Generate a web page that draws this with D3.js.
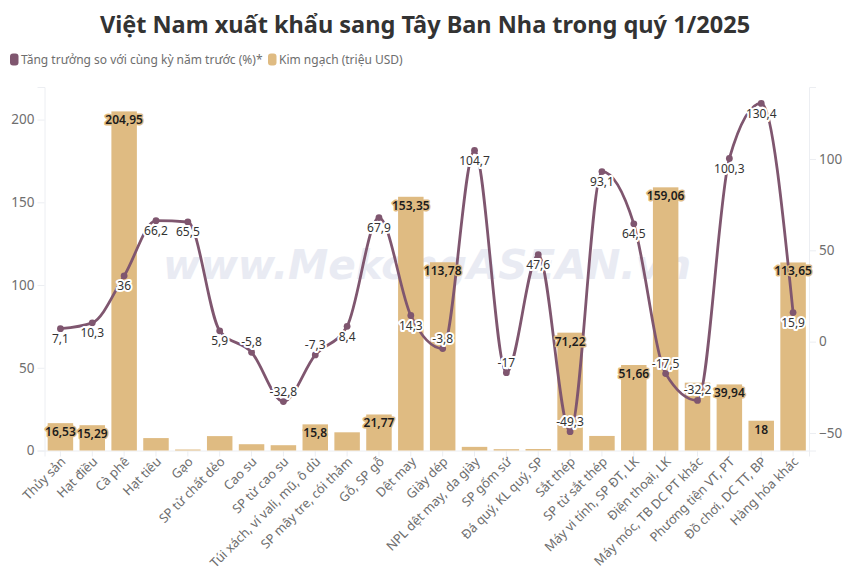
<!DOCTYPE html>
<html>
<head>
<meta charset="utf-8">
<script src="https://cdn.jsdelivr.net/npm/d3@7"></script>
<style>
  html, body { margin: 0; padding: 0; background: #fff; }
  text { font-family: "Noto Sans", sans-serif; }
</style>
</head>
<body>
<svg id="chart" width="850" height="578"></svg>
<script>
  // data
  const categories = [
    'Thủy sản', 'Hạt điều', 'Cà phê', 'Hạt tiêu', 'Gạo', 'SP từ chất dẻo', 'Cao su', 'SP từ cao su',
    'Túi xách, ví vali, mũ, ô dù', 'SP mây tre, cói thảm', 'Gỗ, SP gỗ', 'Dệt may', 'Giày dép',
    'NPL dệt may, da giày', 'SP gốm sứ', 'Đá quý, KL quý, SP', 'Sắt thép', 'SP từ sắt thép',
    'Máy vi tính, SP ĐT, LK', 'Điện thoại, LK', 'Máy móc, TB DC PT khác', 'Phương tiện VT, PT',
    'Đồ chơi, DC TT, BP', 'Hàng hóa khác'
  ];
  const turnover = [16.53, 15.29, 204.95, 7.5, 0.6, 8.7, 3.8, 3.2, 15.8, 11, 21.77, 153.35, 113.78,
    2.2, 0.8, 0.9, 71.22, 8.8, 51.66, 159.06, 41, 39.94, 18, 113.65];
  // bars too short to carry a label in the original
  const turnoverLabels = ['16,53', '15,29', '204,95', '', '', '', '', '', '15,8', '', '21,77', '153,35', '113,78',
    '', '', '', '71,22', '', '51,66', '159,06', '', '39,94', '18', '113,65'];
  const growth = [7.1, 10.3, 36, 66.2, 65.5, 5.9, -5.8, -32.8, -7.3, 8.4, 67.9, 14.3, -3.8,
    104.7, -17, 47.6, -49.3, 93.1, 64.5, -17.5, -32.2, 100.3, 130.4, 15.9];
  const leftTicks = [0, 50, 100, 150, 200];
  const rightTicks = [-50, 0, 50, 100];

  const BAR_COLOR = '#dfbb82';
  const LINE_COLOR = '#7f566f';
  const AXIS_COLOR = '#eceef2';
  const TICK_TEXT = '#6e6e6e';

  const svg = d3.select('#chart');
  const plot = { left: 44.5, right: 809, top: 87, bottom: 450.5 };

  const x = d3.scaleBand().domain(categories).range([plot.left, plot.right]).paddingInner(0.2).paddingOuter(0.1);
  const yLeft = d3.scaleLinear().domain([0, 219.7]).range([plot.bottom, plot.top]);
  const yRight = d3.scaleLinear().domain([-59.6, 139.4]).range([plot.bottom, plot.top]);
  const cx = d => x(d) + x.bandwidth() / 2;

  // title + legend
  svg.append('text')
    .attr('x', 425).attr('y', 33)
    .attr('text-anchor', 'middle')
    .attr('font-size', 23.5).attr('font-weight', 700)
    .attr('fill', '#333333')
    .text('Việt Nam xuất khẩu sang Tây Ban Nha trong quý 1/2025');

  const legend = [
    { label: 'Tăng trưởng so với cùng kỳ năm trước (%)*', color: LINE_COLOR, x: 10 },
    { label: 'Kim ngạch (triệu USD)', color: BAR_COLOR, x: 268 }
  ];
  legend.forEach(d => {
    svg.append('rect').attr('x', d.x).attr('y', 53.5).attr('width', 8.5).attr('height', 12).attr('rx', 3).attr('fill', d.color);
    svg.append('text').attr('x', d.x + 11).attr('y', 64)
      .attr('font-size', 12).attr('fill', '#6e6e6e').text(d.label);
  });

  // watermark sits behind the marks
  svg.append('text')
    .attr('x', 427).attr('y', 279)
    .attr('text-anchor', 'middle')
    .attr('font-size', 40.5).attr('font-weight', 700).attr('font-style', 'italic')
    .attr('fill', '#e9ebf3')
    .style('font-family', '"DejaVu Sans", sans-serif')
    .text('www.MekongASEAN.vn');

  // axes
  const axisLeft = svg.append('g').attr('transform', `translate(${plot.left},0)`)
    .call(d3.axisLeft(yLeft).tickValues(leftTicks).tickSize(7).tickPadding(3));
  const axisRight = svg.append('g').attr('transform', `translate(${plot.right},0)`)
    .call(d3.axisRight(yRight).tickValues(rightTicks).tickSize(7).tickPadding(3));
  const axisBottom = svg.append('g').attr('transform', `translate(0,${plot.bottom})`)
    .call(d3.axisBottom(x).tickSize(6).tickPadding(5));

  [axisLeft, axisRight, axisBottom].forEach(g => {
    g.selectAll('path').attr('stroke', AXIS_COLOR).attr('stroke-width', 1);
    g.selectAll('line').attr('stroke', AXIS_COLOR);
    g.selectAll('text').attr('fill', TICK_TEXT).attr('font-size', 13.5).style('font-family', '"Noto Sans", sans-serif');
  });
  axisBottom.selectAll('text')
    .attr('font-size', 12.8)
    .attr('text-anchor', 'end')
    .attr('dx', 0).attr('dy', 0)
    .attr('transform', 'translate(6,12) rotate(-45)')
    .attr('y', 0).attr('x', 0);

  // bars
  svg.append('g').selectAll('rect')
    .data(categories)
    .join('rect')
    .attr('x', d => x(d))
    .attr('width', x.bandwidth())
    .attr('y', (d, i) => yLeft(turnover[i]))
    .attr('height', (d, i) => plot.bottom - yLeft(turnover[i]))
    .attr('fill', BAR_COLOR);

  // line + points
  const line = d3.line()
    .x(d => cx(d))
    .y((d, i) => yRight(growth[i]))
    .curve(d3.curveMonotoneX);

  svg.append('path')
    .attr('d', line(categories))
    .attr('fill', 'none')
    .attr('stroke', LINE_COLOR)
    .attr('stroke-width', 2.8);

  svg.append('g').selectAll('circle')
    .data(categories)
    .join('circle')
    .attr('cx', d => cx(d))
    .attr('cy', (d, i) => yRight(growth[i]))
    .attr('r', 3.4)
    .attr('fill', LINE_COLOR);

  // bar labels, halo in the bar colour
  svg.append('g').selectAll('text')
    .data(categories)
    .join('text')
    .attr('x', d => cx(d))
    .attr('y', (d, i) => yLeft(turnover[i]) + 13)
    .attr('text-anchor', 'middle')
    .attr('font-size', 12).attr('font-weight', 600)
    .attr('fill', '#1c1c1c')
    .attr('stroke', BAR_COLOR).attr('stroke-width', 3).attr('stroke-linejoin', 'round')
    .attr('paint-order', 'stroke')
    .text((d, i) => turnoverLabels[i]);

  // growth labels: negatives go above the point, the rest below
  svg.append('g').selectAll('text')
    .data(categories)
    .join('text')
    .attr('x', d => cx(d))
    .attr('y', (d, i) => yRight(growth[i]) + (growth[i] < 0 ? -6 : 14.5))
    .attr('text-anchor', 'middle')
    .attr('font-size', 12)
    .attr('fill', '#333333')
    .attr('stroke', '#ffffff').attr('stroke-width', 4).attr('stroke-linejoin', 'round')
    .attr('paint-order', 'stroke')
    .text((d, i) => String(growth[i]).replace('.', ','));
</script>
</body>
</html>
